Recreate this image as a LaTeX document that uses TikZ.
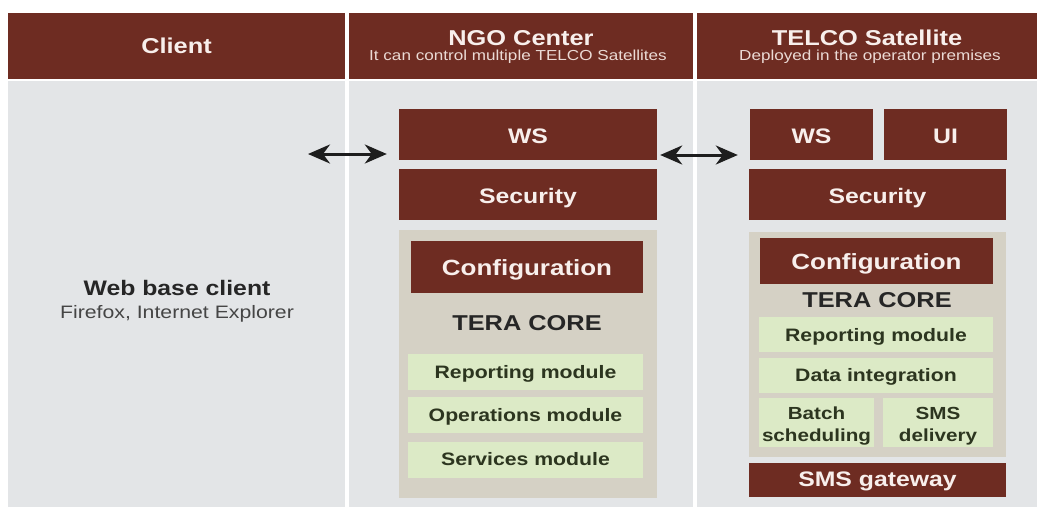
\documentclass[tikz,border=0pt]{standalone}
\usepackage{fontspec}
\setmainfont{Liberation Sans}[FakeStretch=1.18]
\usetikzlibrary{arrows.meta}

\definecolor{brick}{HTML}{6E2C22}
\definecolor{headtext}{HTML}{F8EFEC}
\definecolor{subtext}{HTML}{EBDAD5}
\definecolor{panel}{HTML}{E3E5E7}
\definecolor{core}{HTML}{D5D1C5}
\definecolor{module}{HTML}{DCEAC6}
\definecolor{moduletext}{HTML}{2C351F}
\definecolor{ink}{HTML}{262626}
\definecolor{inksoft}{HTML}{454545}
\definecolor{arrowink}{HTML}{1E1E1E}

% box spanning x1..x2, y1..y2 (y grows downward) with its text baseline at b
% #1 style, #2 name, #3 x1, #4 y1, #5 x2, #6 y2, #7 baseline, #8 text
\newcommand\spanbox[8]{%
  \pgfmathsetmacro\pbw{#5-#3}%
  \pgfmathsetmacro\pbh{#7-#4}%
  \pgfmathsetmacro\pbd{#6-#7}%
  \pgfmathsetmacro\pbx{(#3+#5)/2}%
  \node[#1, anchor=base, inner sep=0pt, minimum width=\pbw pt,
        text height=\pbh pt, text depth=\pbd pt] (#2) at (\pbx,#7) {#8};}

% plain filled area: #1 style, #2 name, #3 x1, #4 y1, #5 x2, #6 y2
\newcommand\plainbox[6]{%
  \pgfmathsetmacro\pbw{#5-#3}%
  \pgfmathsetmacro\pbh{#6-#4}%
  \pgfmathsetmacro\pbx{(#3+#5)/2}%
  \pgfmathsetmacro\pby{(#4+#6)/2}%
  \node[#1, inner sep=0pt, minimum width=\pbw pt, minimum height=\pbh pt] (#2) at (\pbx,\pby) {};}

\tikzset{
  panelarea/.style={fill=panel},
  corearea/.style={fill=core},
  headcell/.style={fill=brick, text=headtext, font=\fontsize{21.5}{25}\selectfont\bfseries},
  subtitle/.style={text=subtext, inner sep=0pt, font=\fontsize{14.5}{17}\selectfont},
  brickbox/.style={fill=brick, text=headtext, font=\fontsize{21}{25}\selectfont\bfseries},
  bigbrick/.style={fill=brick, text=headtext, font=\fontsize{22}{26}\selectfont\bfseries},
  modulebox/.style={fill=module, text=moduletext, font=\fontsize{18}{22.4}\selectfont\bfseries},
  coretitle/.style={text=ink, inner sep=0pt, font=\fontsize{21.5}{25}\selectfont\bfseries},
  clienttitle/.style={text=ink, inner sep=0pt, font=\fontsize{21}{25}\selectfont\bfseries},
  clientsub/.style={text=inksoft, inner sep=0pt, font=\fontsize{18}{21}\selectfont},
  biarrow/.style={draw=arrowink, line width=3pt,
    {Stealth[length=22pt,width=19pt,inset=7pt]}-{Stealth[length=22pt,width=19pt,inset=7pt]}}
}

\begin{document}
\begin{tikzpicture}[x=1pt,y=-1pt]
  \useasboundingbox (0,0) rectangle (1037,509);
  \fill[white] (0,0) rectangle (1037,509);

  % column backgrounds
  \plainbox{panelarea}{clientbody}{8}{81}{345}{507}
  \plainbox{panelarea}{ngobody}{349}{81}{693}{507}
  \plainbox{panelarea}{telcobody}{697}{81}{1037}{507}

  % header row
  \spanbox{headcell}{clienthead}{8}{13}{345}{79}{53}{Client}
  \spanbox{headcell}{ngohead}{349}{13}{693}{79}{45}{NGO Center}
  \node[subtitle, anchor=base] (ngosub) at (518,60) {It can control multiple TELCO Satellites};
  \spanbox{headcell}{telcohead}{697}{13}{1037}{79}{45}{TELCO Satellite}
  \node[subtitle, anchor=base] (telcosub) at (870,60) {Deployed in the operator premises};

  % client column
  \node[clienttitle, anchor=base] (webclient) at (177,295) {Web base client};
  \node[clientsub, anchor=base] (browsers) at (177,318) {Firefox, Internet Explorer};

  % NGO center stack
  \spanbox{brickbox}{ngows}{399}{109}{657}{160}{143}{WS}
  \spanbox{brickbox}{ngosec}{399}{169}{657}{220}{203}{Security}
  \plainbox{corearea}{ngocore}{399}{230}{657}{498}
  \spanbox{bigbrick}{ngoconf}{411}{241}{643}{293}{275}{Configuration}
  \node[coretitle, anchor=base] (ngotera) at (527,330) {TERA CORE};
  \spanbox{modulebox}{ngorep}{408}{354}{643}{390}{378}{Reporting module}
  \spanbox{modulebox}{ngoops}{408}{397}{643}{433}{421.5}{Operations module}
  \spanbox{modulebox}{ngosrv}{408}{442}{643}{478}{465}{Services module}

  % TELCO satellite stack
  \spanbox{brickbox}{telws}{750}{109}{873}{160}{143}{WS}
  \spanbox{brickbox}{telui}{884}{109}{1007}{160}{143}{UI}
  \spanbox{brickbox}{telsec}{749}{169}{1006}{220}{203}{Security}
  \plainbox{corearea}{telcore}{749}{232}{1006}{457}
  \spanbox{bigbrick}{telconf}{760}{238}{993}{284}{269}{Configuration}
  \node[coretitle, anchor=base] (teltera) at (877,307) {TERA CORE};
  \spanbox{modulebox}{telrep}{759}{317}{993}{352}{341.5}{Reporting module}
  \spanbox{modulebox}{teldata}{759}{358}{993}{393}{381.5}{Data integration}
  \spanbox{modulebox, font=\fontsize{17.5}{22.4}\selectfont\bfseries}{telbatch}{759}{398}{874}{447}{419.3}
    {\begin{tabular}[t]{@{}c@{}}Batch\\scheduling\end{tabular}}
  \spanbox{modulebox, font=\fontsize{17.5}{22.4}\selectfont\bfseries}{telsms}{883}{398}{993}{447}{419.3}
    {\begin{tabular}[t]{@{}c@{}}SMS\\delivery\end{tabular}}
  \spanbox{brickbox}{telgw}{749}{463}{1006}{497}{486.5}{SMS gateway}

  % links between tiers
  \coordinate (clientport) at (308,154);
  \draw[biarrow, shorten >=12pt] (clientport) -- (ngows.west |- clientport);
  \coordinate (ngoport) at (ngows.east |- 0,155);
  \draw[biarrow, shorten <=3pt, shorten >=12pt] (ngoport) -- (telws.west |- ngoport);
\end{tikzpicture}
\end{document}
